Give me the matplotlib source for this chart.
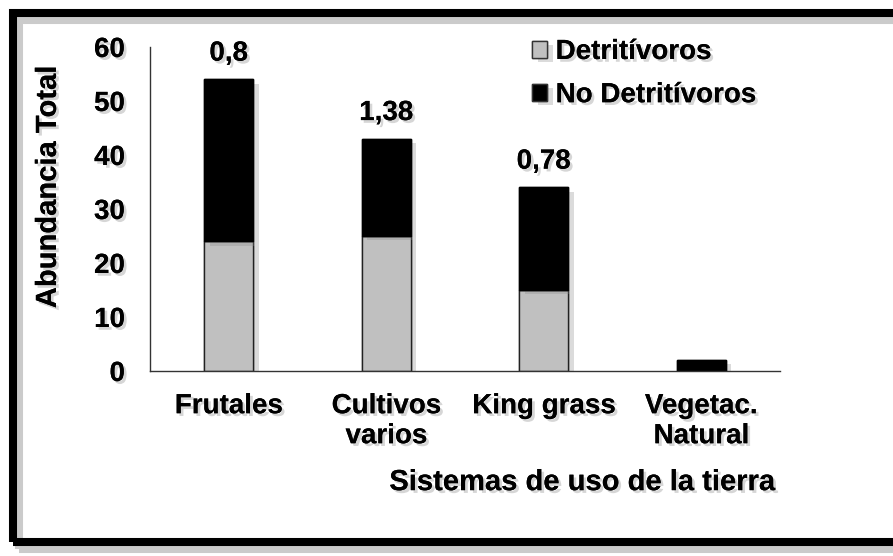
import numpy as np
import matplotlib
matplotlib.use("Agg")
import matplotlib.pyplot as plt
import matplotlib.patheffects as pe
from matplotlib.patches import Rectangle

plt.rcParams['font.family'] = ['Liberation Sans', 'DejaVu Sans']
plt.rcParams['font.weight'] = 'bold'

categorias = ["Frutales", "Cultivos\nvarios", "King grass", "Vegetac.\nNatural"]
detritivoros = [24, 25, 15, 0]
no_detritivoros = [30, 18, 19, 2]
etiquetas = ["0,8", "1,38", "0,78", ""]
series = ["Detritívoros", "No Detritívoros"]

sombra_txt = [pe.withSimplePatchShadow(offset=(2, -2), shadow_rgbFace='#999999', alpha=0.4), pe.Normal()]
sombra_bar = [pe.withSimplePatchShadow(offset=(4, -3), shadow_rgbFace='#888888', alpha=0.3), pe.Normal()]

fig = plt.figure(figsize=(8.93, 5.56), dpi=100)
ax = fig.add_axes([150/893, 1-371/556, 630/893, 324/556])

x = np.arange(len(categorias))
ancho = 0.31
b1 = ax.bar(x, detritivoros, ancho, color='#c0c0c0', edgecolor='#222222', lw=1.0, label=series[0])
b2 = ax.bar(x, no_detritivoros, ancho, bottom=detritivoros, color='black', edgecolor='black', lw=1.0, label=series[1])
for b in list(b1) + list(b2):
    b.set_path_effects(sombra_bar)

totales = np.array(detritivoros) + np.array(no_detritivoros)
for i, t in enumerate(etiquetas):
    if t:
        ax.annotate(t, (x[i], totales[i]), xytext=(0, 13.5), textcoords='offset points',
                    ha='center', va='baseline', fontsize=20, fontweight='bold',
                    path_effects=sombra_txt)

ax.set_xlim(-0.5, 3.5)
ax.set_ylim(0, 60)
ax.set_yticks(range(0, 61, 10))
ax.set_xticks(x)
ax.set_xticklabels(categorias)
ax.tick_params(length=0, labelsize=20)
ax.tick_params(axis='y', pad=18)
ax.tick_params(axis='x', pad=16)
for lab in ax.get_xticklabels() + ax.get_yticklabels():
    lab.set_fontweight('bold')
    lab.set_path_effects(sombra_txt)

for s in ['top', 'right']:
    ax.spines[s].set_visible(False)
for s in ['left', 'bottom']:
    ax.spines[s].set_color('#333333')
    ax.spines[s].set_linewidth(1.0)

ax.set_xlabel("Sistemas de uso de la tierra", fontsize=21, fontweight='bold', va='center',
              path_effects=sombra_txt)
ax.xaxis.set_label_coords(0.686, -0.343)
ax.set_ylabel("Abundancia Total", fontsize=21, fontweight='bold', va='center',
              path_effects=sombra_txt)
ax.yaxis.set_label_coords(-0.162, 0.568)

leg = fig.legend(loc='upper left', bbox_to_anchor=(532/893, 1-39/556), frameon=False,
                 fontsize=20, handlelength=0.55, handleheight=0.55, handletextpad=0.3,
                 labelspacing=0.62, borderpad=0, borderaxespad=0)
for t in leg.get_texts():
    t.set_fontweight('bold')
    t.set_path_effects(sombra_txt)
for h in leg.legend_handles:
    h.set_edgecolor('#333333')

# marco negro grueso
marco = Rectangle((13/893, 1-542/556), 1.2, (542-13)/556, transform=fig.transFigure,
                  fill=False, edgecolor='black', lw=5.8, clip_on=False,
                  path_effects=[pe.SimpleLineShadow(offset=(4, -5), shadow_color='#999999', alpha=0.5),
                                pe.Normal()])
fig.patches.append(marco)

fig.savefig("out.png", dpi=100)
